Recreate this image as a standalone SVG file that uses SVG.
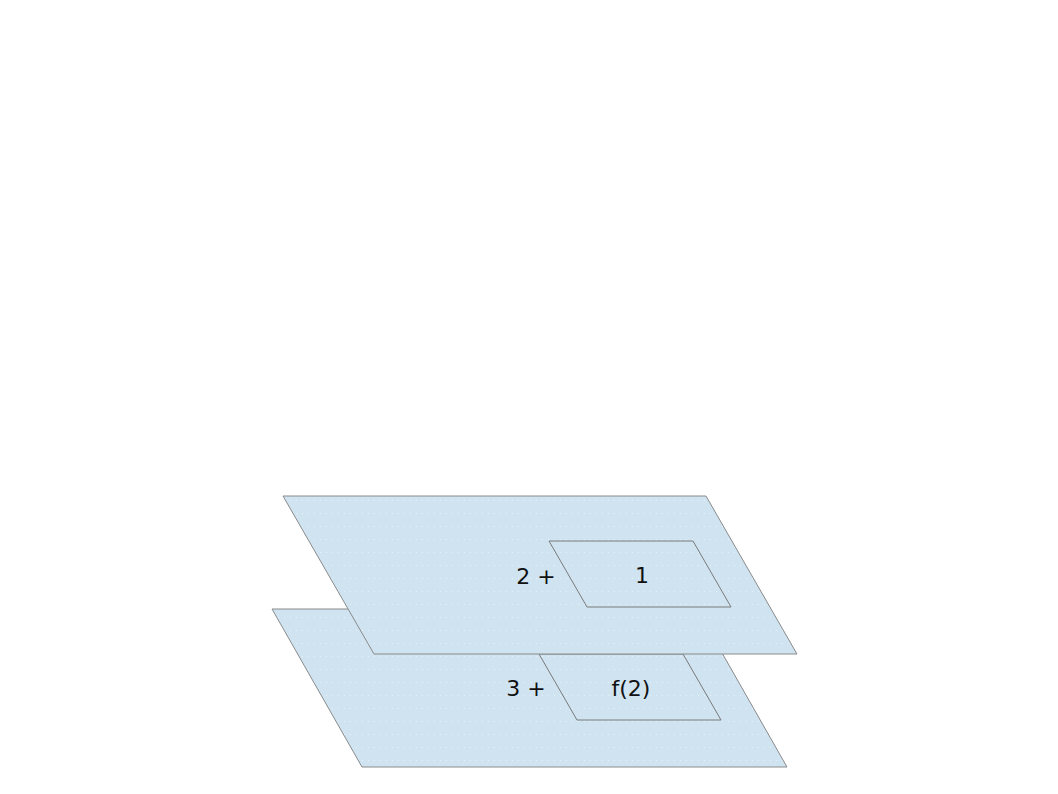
<svg xmlns="http://www.w3.org/2000/svg" width="1058" height="794" viewBox="0 0 1058 794">
<defs>
<pattern id="dots" x="0" y="0" width="6" height="13" patternUnits="userSpaceOnUse">
<rect width="6" height="13" fill="#cfe3f1"/>
<rect x="2" y="6" width="1" height="1" fill="#ffffff" opacity="0.55"/>
</pattern>
<style>
.plane{fill:url(#dots);stroke:#8a8a8a;stroke-width:1}
.inner{fill:none;stroke:#7a7a7a;stroke-width:1}
.lbl{font-family:"DejaVu Sans","Liberation Sans",sans-serif;font-size:22px;fill:#111;text-anchor:middle}
</style>
</defs>
<rect width="1058" height="794" fill="#ffffff"/>
<g id="plane-bottom">
<polygon class="plane" points="272,609 697,609 787,767 362,767"/>
<polygon class="inner" points="539,654 683,654 721,720 577,720"/>
<text class="lbl" x="526" y="696">3 +</text>
<text class="lbl" x="631" y="696">f(2)</text>
</g>
<g id="plane-top">
<polygon class="plane" points="283,496 706,496 797,654 374,654"/>
<polygon class="inner" points="549,541 693,541 731,607 587,607"/>
<text class="lbl" x="536" y="584">2 +</text>
<text class="lbl" x="642" y="583">1</text>
</g>
<g id="connectors"></g>
</svg>
